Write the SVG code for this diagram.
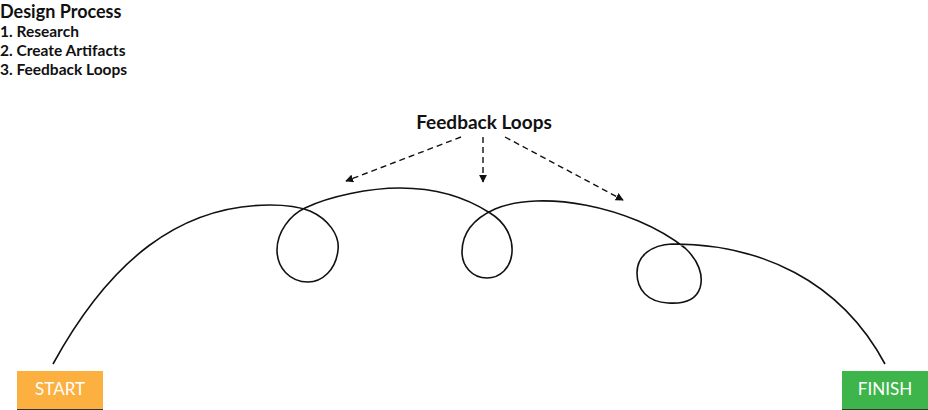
<svg xmlns="http://www.w3.org/2000/svg" width="928" height="410" viewBox="0 0 928 410">
<style>
.t{font-family:Lato,"Noto Sans",sans-serif;fill:#111}
.title{font-size:18px;font-weight:700}
.item{font-size:15.5px;font-weight:700}
.lab{font-size:19px;font-weight:700;text-anchor:middle}
.btn{font-family:Lato,"Noto Sans",sans-serif;font-size:17px;fill:#fff;text-anchor:middle}
.dash{stroke:#111;stroke-width:1.4;stroke-dasharray:6 4;fill:none}
</style>
<defs>
<marker id="ah" viewBox="0 0 10 10" refX="9" refY="5" markerWidth="8" markerHeight="8" markerUnits="userSpaceOnUse" orient="auto">
<path d="M0,0 L10,5 L0,10 z" fill="#111"/>
</marker>
</defs>
<g id="legend">
<text class="t title" x="0" y="18">Design Process</text>
<text class="t item" x="0" y="37">1. Research</text>
<text class="t item" x="0" y="56">2. Create Artifacts</text>
<text class="t item" x="0" y="75">3. Feedback Loops</text>
</g>
<g id="feedback-label">
<text class="t lab" x="484" y="129">Feedback Loops</text>
</g>
<g id="connectors">
<path d="M53,364 C110,260 180,205 270,205 C290,205 300,207 310,211 C328,219 340,235 338,250 C336,270 322,282 308,282 C290,282 277,268 277,250 C277,232 290,215 305,208 C330,196 370,188 400,188 C440,188 470,200 490,213 C505,222 513,237 512,252 C511,268 500,278 487,278 C472,278 462,266 462,252 C462,232 475,218 495,209 C540,190 630,205 685,248 C698,260 704,275 700,288 C696,300 683,304 668,303 C648,302 637,290 637,273 C637,255 652,245 672,244 C760,244 840,280 885,364" fill="none" stroke="#111" stroke-width="1.6"/>
<line class="dash" x1="461" y1="137" x2="346" y2="181" marker-end="url(#ah)"/>
<line class="dash" x1="483" y1="137" x2="483" y2="182" marker-end="url(#ah)"/>
<line class="dash" x1="505" y1="137" x2="623" y2="200" marker-end="url(#ah)"/>
</g>
<g id="start">
<rect x="17" y="371" width="86" height="38" fill="#FBB040"/>
<line x1="17" y1="409.5" x2="103" y2="409.5" stroke="#333" stroke-width="1"/>
<text class="btn" x="60" y="395">START</text>
</g>
<g id="finish">
<rect x="842" y="371" width="86" height="38" fill="#3DB54A"/>
<line x1="842" y1="409.5" x2="928" y2="409.5" stroke="#333" stroke-width="1"/>
<text class="btn" x="885" y="395">FINISH</text>
</g>
</svg>
